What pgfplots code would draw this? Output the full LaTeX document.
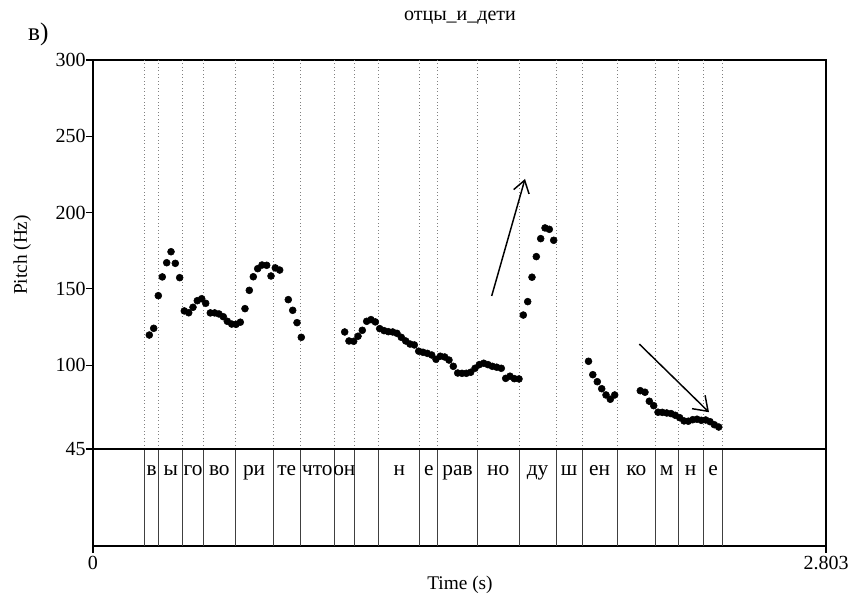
\documentclass[border=0pt]{standalone}
\usepackage{fontspec}
\setmainfont{Liberation Serif}
\usepackage{pgfplots}
\pgfplotsset{compat=1.18}
\usetikzlibrary{arrows.meta}

\begin{document}
\fontsize{14.5pt}{17pt}\selectfont
\begin{tikzpicture}
\useasboundingbox (-69.75pt,-42pt) rectangle (567pt,409.5pt);
\begin{axis}[
  at={(0pt,0pt)}, anchor=south west,
  scale only axis, width=549.75pt, height=364.5pt,
  xmin=0, xmax=2.803, ymin=-18.6, ymax=300,
  axis line style={line width=1pt},
  xtick={0,2.803}, xticklabels={0,2.803},
  ytick={45,100,150,200,250,300},
  tick align=outside, tick pos=left, major tick length=5.25pt,
  tick style={line width=0.8pt, black},
  /pgf/number format/assume math mode=true,
  ticklabel style={font=\fontsize{15pt}{17pt}\selectfont},
  yticklabel style={inner sep=0pt},
  xticklabel style={inner sep=2pt},
  clip=false,
]
% boundaries
\pgfplotsinvokeforeach{0.196,0.252,0.343,0.423,0.543,0.689,0.792,0.923,0.999,1.093,1.250,1.318,1.470,1.629,1.771,1.870,2.005,2.150,2.237,2.334,2.408}{
  \draw[gray, dotted, line width=0.6pt] (axis cs:#1,45) -- (axis cs:#1,300);
  \draw[gray!50!black, line width=0.6pt] (axis cs:#1,-18.6) -- (axis cs:#1,45);
}
\draw[line width=0.8pt] (axis cs:0,45) -- (axis cs:2.803,45);
% tier labels
\foreach \c/\t in {0.224/в,0.2975/ы,0.383/го,0.483/во,0.616/ри,0.7405/те,0.8575/что,0.961/он,1.1715/н,1.284/е,1.394/рав,1.5495/но,1.70/ду,1.8205/ш,1.9375/ен,2.0775/ко,2.1935/м,2.2855/н,2.371/е}{
  \edef\tmp{\noexpand\node[inner sep=0pt, font=\noexpand\fontsize{16pt}{18pt}\noexpand\selectfont] at (axis cs:\c,31) {\t\noexpand\strut};}\tmp
}
\addplot[only marks, mark=*, mark size=2.6pt, black] coordinates {
(0.2153,119.7)(0.2321,124.1)(0.2497,145.5)(0.2650,157.8)(0.2818,167.1)(0.2983,174.3)(0.3147,166.7)(0.3315,157.3)
(0.3491,135.5)(0.3660,134.3)(0.3824,137.9)(0.3988,142.2)(0.4157,143.5)(0.4310,140.5)(0.4486,134.2)(0.4654,134.2)
(0.4818,133.5)(0.4983,131.7)(0.5136,128.7)(0.5304,126.9)(0.5468,126.7)(0.5633,128.1)(0.5812,137.0)(0.5977,149.0)
(0.6130,157.9)(0.6298,163.2)(0.6463,165.6)(0.6642,165.4)(0.6807,158.4)(0.6971,163.7)(0.7139,162.3)(0.7468,142.9)
(0.7637,135.9)(0.7801,127.8)(0.7965,118.2)
};
\addplot[only marks, mark=*, mark size=2.6pt, black] coordinates {
(0.9625,121.7)(0.9789,115.8)(0.9969,115.6)(1.0134,118.9)(1.0298,122.8)(1.0466,128.7)(1.0631,129.8)(1.0795,128.3)
(1.0963,123.9)(1.1128,122.6)(1.1292,121.9)(1.1461,121.7)(1.1625,120.8)(1.1789,118.2)(1.1958,115.8)(1.2122,113.8)
(1.2287,113.2)(1.2455,109.1)(1.2619,108.4)(1.2784,107.7)(1.2952,106.6)(1.3116,103.8)(1.3281,105.8)(1.3449,105.3)
(1.3613,103.3)(1.3778,99.2)(1.3946,94.8)(1.4111,94.6)(1.4275,94.6)(1.4443,95.3)(1.4608,97.9)(1.4772,100.3)
(1.4940,101.2)(1.5105,100.3)(1.5269,99.2)(1.5437,98.6)(1.5613,97.9)(1.5782,91.3)(1.5946,92.7)(1.6111,91.1)
(1.6290,90.9)(1.6455,132.8)(1.6623,141.6)(1.6787,157.6)(1.6952,171.1)(1.7120,182.9)(1.7285,189.9)(1.7449,189.0)
(1.7617,181.8)
};
\addplot[only marks, mark=*, mark size=2.6pt, black] coordinates {
(1.8948,102.5)(1.9112,93.7)(1.9284,89.1)(1.9453,84.5)(1.9617,80.4)(1.9782,77.6)(1.9950,80.4)
};
\addplot[only marks, mark=*, mark size=2.6pt, black] coordinates {
(2.0929,83.2)(2.1108,82.2)(2.1273,76.3)(2.1441,73.4)(2.1606,69.1)(2.1770,69.0)(2.1938,68.6)(2.2103,68.2)
(2.2267,67.1)(2.2435,65.5)(2.2600,63.4)(2.2764,63.2)(2.2933,64.2)(2.3097,64.5)(2.3262,63.8)(2.3430,64.0)
(2.3594,62.9)(2.3759,60.9)(2.3927,59.4)
};
\draw[line width=1.1pt, -{Straight Barb[length=9pt, width=12pt]}] (axis cs:1.5246,145.3) -- (axis cs:1.652,222.0);
\draw[line width=1.1pt, -{Straight Barb[length=10pt, width=14pt]}] (axis cs:2.089,113.8) -- (axis cs:2.3556,69.1);
\end{axis}
\node[font=\fontsize{15pt}{17pt}\selectfont] at (275.25pt,396pt) {отцы\_и\_дети};
\node[font=\fontsize{19pt}{21pt}\selectfont] at (-41pt,384pt) {в)};
\node[rotate=90] at (-53pt,218.25pt) {Pitch (Hz)};
\node at (275.25pt,-29pt) {Time (s)};
\end{tikzpicture}
\end{document}
